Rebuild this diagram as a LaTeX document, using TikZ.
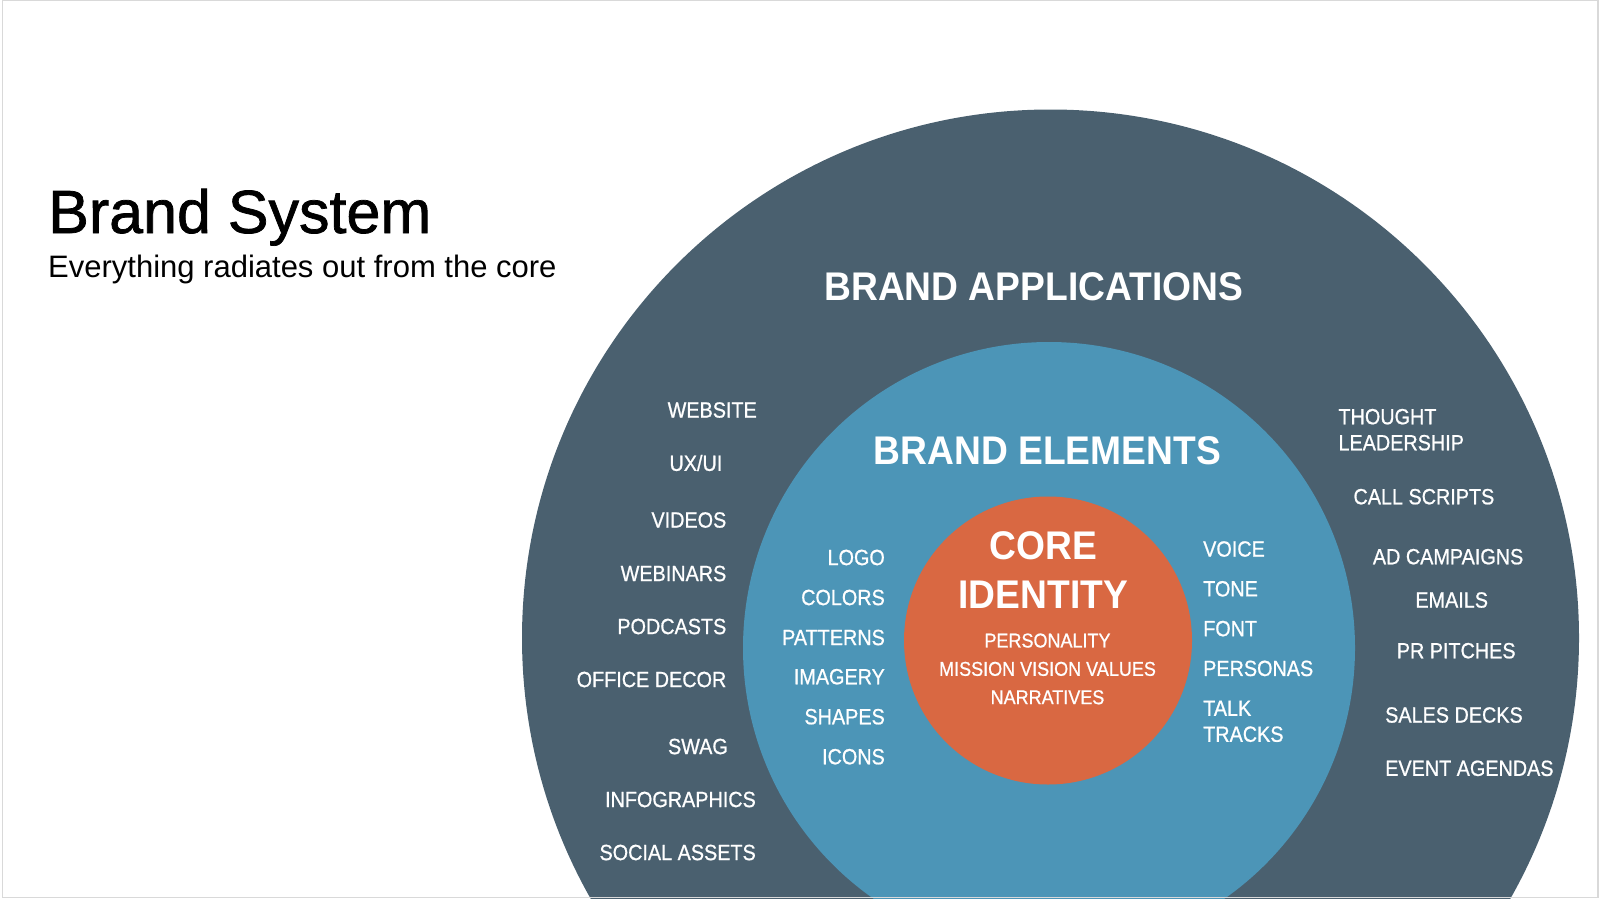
\documentclass[tikz,border=0pt]{standalone}
\usepackage{fontspec}
\setmainfont{Liberation Sans}
\newfontfamily\titlefont[FakeBold=1.2]{Liberation Sans}
\newfontfamily\capsfont[FakeStretch=0.9, FakeBold=0.8]{Liberation Sans}
\newfontfamily\headfont[FakeStretch=0.93]{Liberation Sans}
\usepackage{xcolor}
\usepackage{tikz}

\definecolor{appslate}{HTML}{4A606F}
\definecolor{elemblue}{HTML}{4C95B7}
\definecolor{coreorange}{HTML}{D96842}
\definecolor{framegray}{HTML}{D9D9D9}

\begin{document}
\begin{tikzpicture}[x=1pt, y=-1pt,
    item/.style={text=white, inner sep=0pt, font=\capsfont\fontsize{22}{26}\selectfont},
    small/.style={text=white, inner sep=0pt, align=center, font=\capsfont\fontsize{20}{28.35}\selectfont},
    head/.style={text=white, inner sep=0pt, align=center, font=\headfont\bfseries\fontsize{40}{48.4}\selectfont}]

    \useasboundingbox (0,0) rectangle (1600,899);

    % Rings
    \begin{scope}
        \clip (2,0) rectangle (1598,898);
        \fill [appslate] (1050.5,638) circle [radius=528.5pt];
        \fill [elemblue] (1049,648) circle [radius=306pt];
        \fill [coreorange] (1048,640.5) circle [radius=144pt];
    \end{scope}
    \draw [framegray, line width=1.5pt] (2.5,0.75) rectangle (1598,897.5);

    % Title
    \node [anchor=base west, inner sep=0pt, font=\titlefont\fontsize{61}{70}\selectfont] (title) at (48,233) {Brand System};
    \node [anchor=base west, inner sep=0pt, font=\fontsize{31}{36}\selectfont] (subtitle) at (48,277.5) {Everything radiates out from the core};

    % Headings
    \node [head] (apps) at (1033.7,286.7) {BRAND APPLICATIONS};
    \node [head] (elements) at (1047.4,451) {BRAND ELEMENTS};
    \node [head] (core) at (1043.3,570) {CORE\\IDENTITY};
    \node [small] (coreitems) at (1047.5,668.9) {PERSONALITY\\MISSION VISION VALUES\\NARRATIVES};

    % Brand applications, left
    \node [item, anchor=east] (website) at (757,410) {WEBSITE};
    \node [item, anchor=east] (uxui) at (722.5,463) {UX/UI};
    \node [item, anchor=east] (videos) at (726.5,520) {VIDEOS};
    \node [item, anchor=east] (webinars) at (726.5,573.5) {WEBINARS};
    \node [item, anchor=east] (podcasts) at (726.5,626.5) {PODCASTS};
    \node [item, anchor=east] (decor) at (726.5,679.5) {OFFICE DECOR};
    \node [item, anchor=east] (swag) at (728,746.5) {SWAG};
    \node [item, anchor=east] (infographics) at (756,799.5) {INFOGRAPHICS};
    \node [item, anchor=east] (social) at (756,852.5) {SOCIAL ASSETS};

    % Brand applications, right
    \node [item, anchor=west, align=left] (thought) at (1338.3,429.7) {THOUGHT\\LEADERSHIP};
    \node [item, anchor=west] (scripts) at (1353.3,496.7) {CALL SCRIPTS};
    \node [item, anchor=west] (campaigns) at (1372.7,556.7) {AD CAMPAIGNS};
    \node [item] (emails) at (1451.7,600) {EMAILS};
    \node [item] (pitches) at (1456.2,650.7) {PR PITCHES};
    \node [item, anchor=west] (decks) at (1385,715) {SALES DECKS};
    \node [item, anchor=west] (agendas) at (1385,768.3) {EVENT AGENDAS};

    % Brand elements, left
    \node [item, anchor=east] (logo) at (885,557.5) {LOGO};
    \node [item, anchor=east] (colors) at (885,597.5) {COLORS};
    \node [item, anchor=east] (patterns) at (885,637.5) {PATTERNS};
    \node [item, anchor=east] (imagery) at (885,676.7) {IMAGERY};
    \node [item, anchor=east] (shapes) at (885,716.7) {SHAPES};
    \node [item, anchor=east] (icons) at (885,756.7) {ICONS};

    % Brand elements, right
    \node [item, anchor=west] (voice) at (1203,549) {VOICE};
    \node [item, anchor=west] (tone) at (1203,588.8) {TONE};
    \node [item, anchor=west] (font) at (1203,628.6) {FONT};
    \node [item, anchor=west] (personas) at (1203,668.4) {PERSONAS};
    \node [item, anchor=west, align=left] (talk) at (1203,721.3) {TALK\\TRACKS};

\end{tikzpicture}
\end{document}
